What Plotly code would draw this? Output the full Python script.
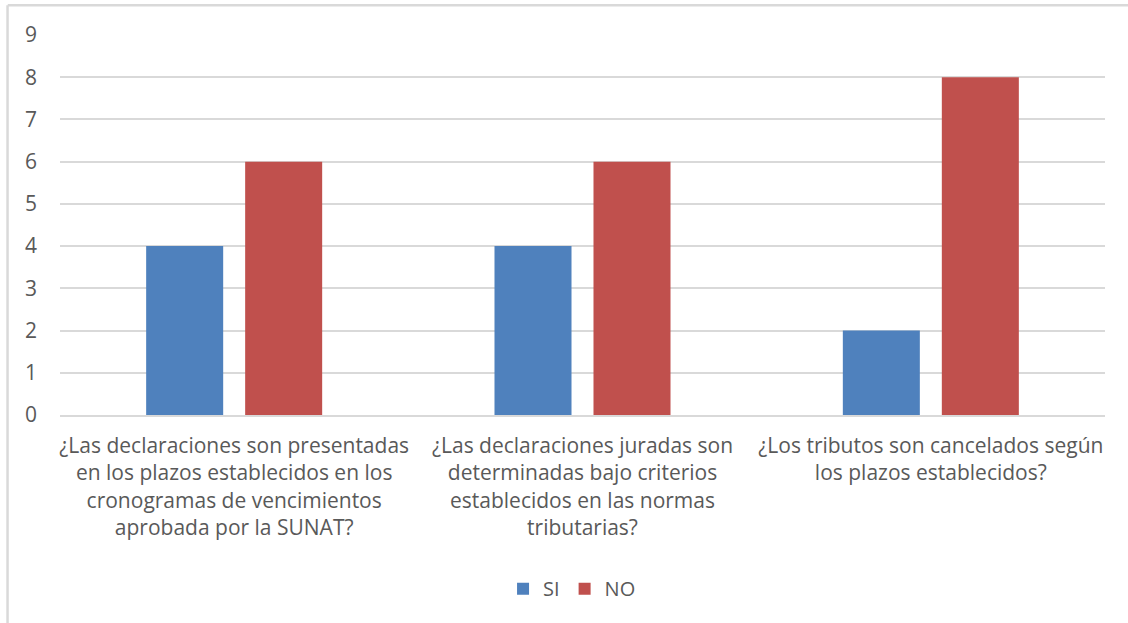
import plotly.graph_objects as go

# Survey questions (x categories) and answer counts
categories = [
    "¿Las declaraciones son presentadas<br>en los plazos establecidos en los<br>cronogramas de vencimientos<br>aprobada por la SUNAT?",
    "¿Las declaraciones juradas son<br>determinadas bajo criterios<br>establecidos en las normas<br>tributarias?",
    "¿Los tributos son cancelados según<br>los plazos establecidos?",
]
si_values = [4, 4, 2]
no_values = [6, 6, 8]
y_ticks = list(range(0, 10))

FONT = "Open Sans"
TEXT_COLOR = "#595959"

fig = go.Figure()
fig.add_trace(go.Bar(name="SI", x=categories, y=si_values, marker_color="#4F81BD",
                     marker_line_width=0))
fig.add_trace(go.Bar(name="NO", x=categories, y=no_values, marker_color="#C0504D",
                     marker_line_width=0))

fig.update_layout(
    width=1128,
    height=623,
    autosize=False,
    paper_bgcolor="white",
    plot_bgcolor="white",
    barmode="group",
    bargap=0.4316,
    bargroupgap=0.222,
    margin=dict(l=60, r=23, t=35, b=208, pad=0),
    font=dict(family=FONT, color=TEXT_COLOR, size=20),
    showlegend=True,
    legend=dict(
        orientation="h",
        x=0.49,
        xanchor="center",
        y=-0.457,
        yanchor="middle",
        font=dict(family=FONT, size=20, color=TEXT_COLOR),
        itemclick=False,
        traceorder="normal",
    ),
)

fig.update_xaxes(
    type="category",
    showgrid=False,
    showline=True,
    linecolor="#d9d9d9",
    linewidth=1.5,
    ticks="",
    ticklabelstandoff=11,
    tickfont=dict(family=FONT, size=21, color=TEXT_COLOR),
    tickangle=0,
)

fig.update_yaxes(
    range=[0, 9],
    tickvals=y_ticks,
    ticktext=[str(v) for v in y_ticks],
    showgrid=True,
    gridcolor="#d9d9d9",
    gridwidth=1.5,
    zeroline=False,
    showline=False,
    ticks="",
    ticklabelstandoff=22,
    tickfont=dict(family=FONT, size=21, color=TEXT_COLOR),
)

# Chart frame edges along the top and left
fig.add_shape(type="line", xref="paper", yref="paper", x0=-0.05, x1=1.03,
              y0=1.078, y1=1.078, line=dict(color="#d9d9d9", width=2.5))
fig.add_shape(type="line", xref="paper", yref="paper", x0=-0.0502, x1=-0.0502,
              y0=1.078, y1=-0.6, line=dict(color="#d9d9d9", width=2.5))

fig.write_html("out.html")
